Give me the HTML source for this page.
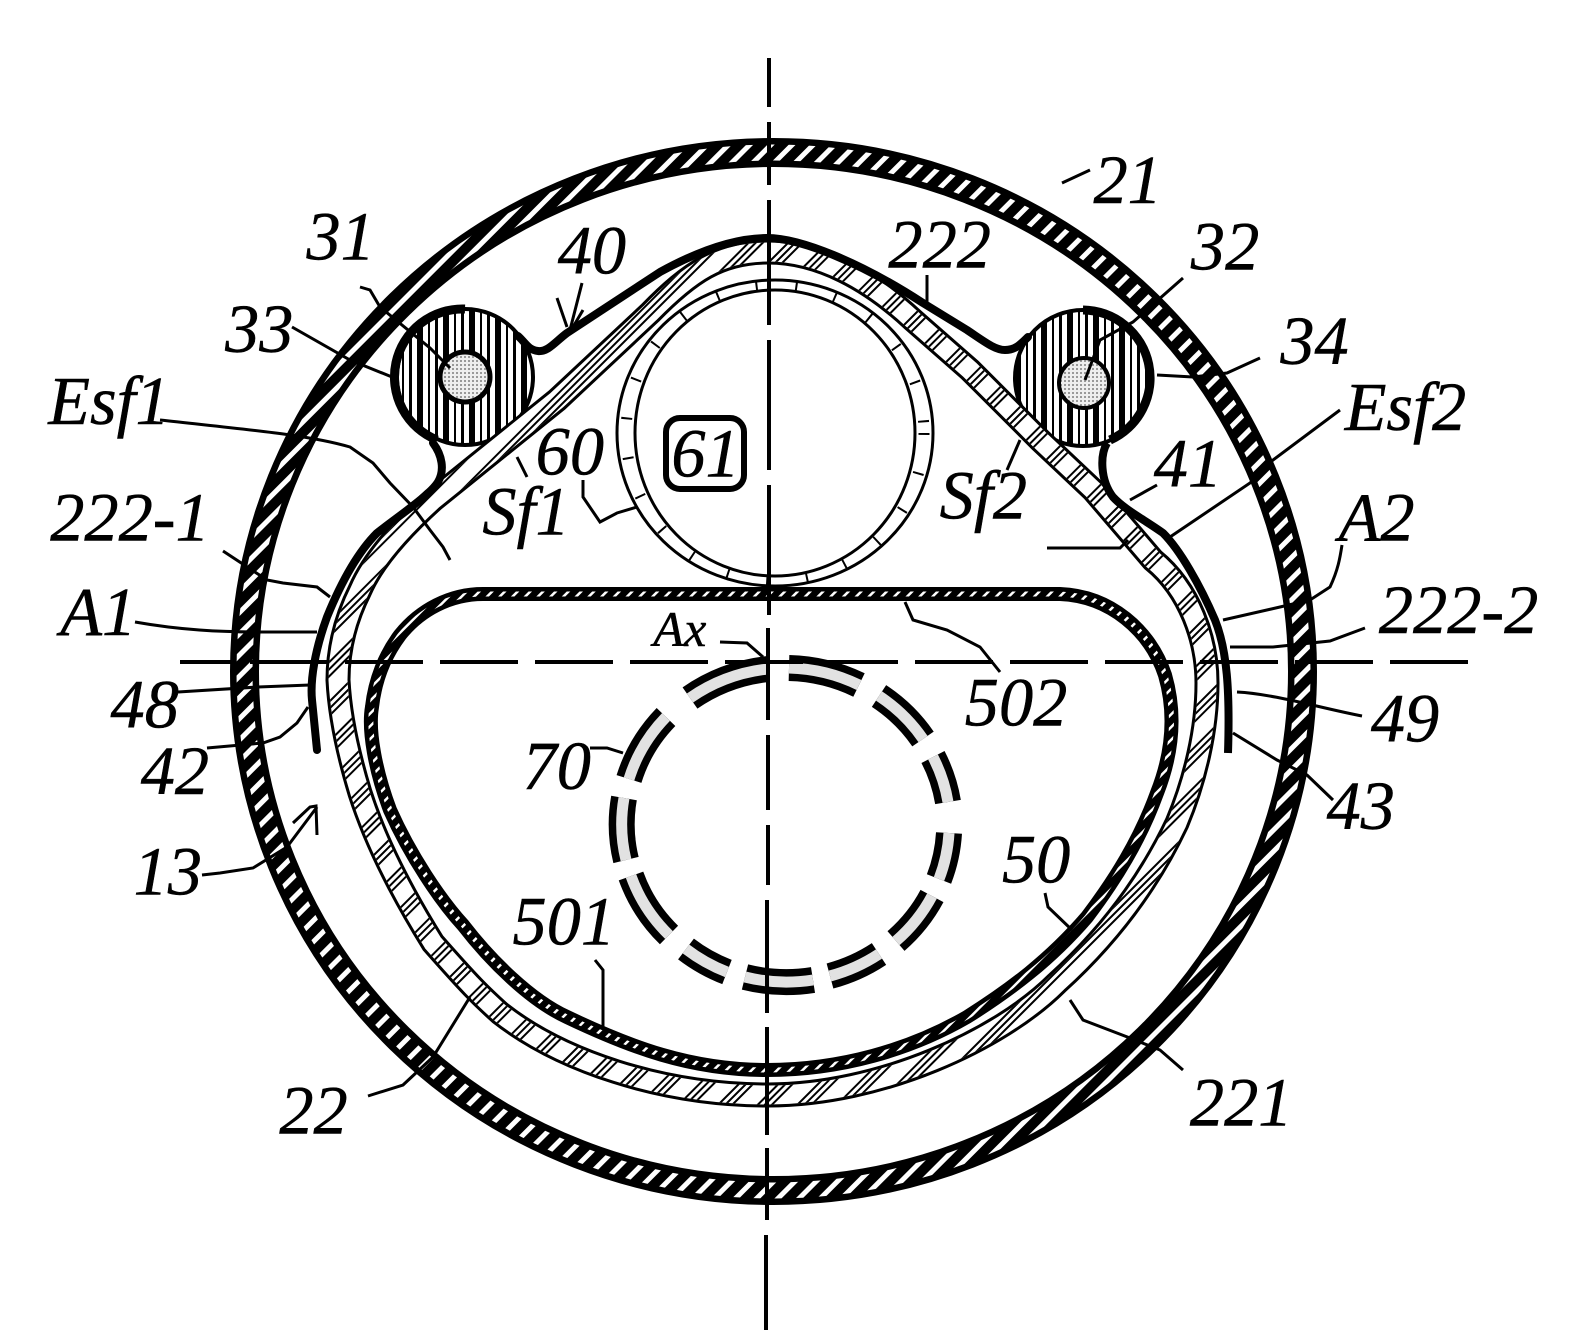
<!DOCTYPE html>
<html><head><meta charset="utf-8"><style>
html,body{margin:0;padding:0;background:#fff}
svg{display:block}
text{font-family:"Liberation Serif",serif;font-style:italic;font-size:68px;fill:#000;stroke:#000;stroke-width:.5}
.l{fill:none;stroke:#000;stroke-width:3}
</style></head><body>
<svg width="1576" height="1342" viewBox="0 0 1576 1342" xmlns="http://www.w3.org/2000/svg">
<defs>
<pattern id="vs" width="26" height="10" patternUnits="userSpaceOnUse"><rect width="26" height="10" fill="#fff"/><rect x="1" width="6" height="10" fill="#000"/><rect x="12" width="2" height="10" fill="#000"/><rect x="19" width="3" height="10" fill="#000"/></pattern>
<pattern id="st" width="4" height="4" patternUnits="userSpaceOnUse"><rect width="4" height="4" fill="#eee"/><rect width="2" height="2" fill="#999"/></pattern>
<pattern id="h" width="15" height="15" patternUnits="userSpaceOnUse" patternTransform="rotate(45)"><rect width="5" height="15" fill="#fff"/></pattern>
<pattern id="hb" width="28" height="28" patternUnits="userSpaceOnUse" patternTransform="rotate(45)"><rect width="2" height="28" fill="#000"/><rect x="5" width="2" height="28" fill="#000"/><rect x="10" width="2" height="28" fill="#000"/></pattern>
<pattern id="hc" width="9" height="9" patternUnits="userSpaceOnUse" patternTransform="rotate(45)"><rect width="2.5" height="9" fill="#fff"/></pattern>
</defs>
<rect width="1576" height="1342" fill="#fff"/>

<!-- outer ring -->
<ellipse cx="773.5" cy="671.5" rx="529" ry="519" fill="none" stroke="#000" stroke-width="29"/>
<ellipse cx="773.5" cy="671.5" rx="529" ry="519" fill="none" stroke="url(#h)" stroke-width="16"/>

<!-- balls -->
<circle cx="465" cy="377" r="68" fill="url(#vs)" stroke="#000" stroke-width="4"/>
<circle cx="1083" cy="378" r="68" fill="url(#vs)" stroke="#000" stroke-width="4"/>
<path d="M465,309 A68,68 0 0 0 437,440" fill="none" stroke="#000" stroke-width="9"/>
<path d="M1083,310 A68,68 0 0 1 1110,440" fill="none" stroke="#000" stroke-width="9"/>
<circle cx="465" cy="377" r="25" fill="url(#st)" stroke="#000" stroke-width="5"/>
<circle cx="1084" cy="383" r="25" fill="url(#st)" stroke="#000" stroke-width="4"/>

<!-- layer 222 band -->
<path d="M768,252 C720,252 690,272 650,313 L557,400 L433,500 C400,530 373,560 360,590 C345,620 338,650 338,680 C340,720 350,760 360,793 C375,840 400,890 433,943 C470,985 480,995 500,1013 C560,1060 660,1095 768,1095 C880,1095 1000,1040 1057,983 C1110,935 1150,880 1177,823 C1195,780 1207,730 1207,683 C1207,640 1190,590 1153,560 L1093,490 L1040,440 L970,370 L913,320 C870,280 820,252 768,252 Z" fill="none" stroke="#000" stroke-width="25"/>
<path d="M768,252 C720,252 690,272 650,313 L557,400 L433,500 C400,530 373,560 360,590 C345,620 338,650 338,680 C340,720 350,760 360,793 C375,840 400,890 433,943 C470,985 480,995 500,1013 C560,1060 660,1095 768,1095 C880,1095 1000,1040 1057,983 C1110,935 1150,880 1177,823 C1195,780 1207,730 1207,683 C1207,640 1190,590 1153,560 L1093,490 L1040,440 L970,370 L913,320 C870,280 820,252 768,252 Z" fill="none" stroke="#fff" stroke-width="19"/>
<path d="M768,252 C720,252 690,272 650,313 L557,400 L433,500 C400,530 373,560 360,590 C345,620 338,650 338,680 C340,720 350,760 360,793 C375,840 400,890 433,943 C470,985 480,995 500,1013 C560,1060 660,1095 768,1095 C880,1095 1000,1040 1057,983 C1110,935 1150,880 1177,823 C1195,780 1207,730 1207,683 C1207,640 1190,590 1153,560 L1093,490 L1040,440 L970,370 L913,320 C870,280 820,252 768,252 Z" fill="none" stroke="url(#hb)" stroke-width="19"/>

<!-- wall 40/41 thick line -->
<path d="M767,238 C735,238 700,250 660,272 L567,333 C555,342 548,352 538,351 C528,350 525,342 518,336" fill="none" stroke="#000" stroke-width="8" stroke-linecap="round"/>
<path d="M767,238 C800,238 860,262 923,303 L967,330 C985,342 995,350 1005,350 C1015,350 1020,345 1028,337" fill="none" stroke="#000" stroke-width="8" stroke-linecap="round"/>
<path d="M433,443 C442,455 445,470 438,482 C430,495 400,515 377,533 C355,555 338,590 327,617 C315,650 310,680 312,700 L317,750" fill="none" stroke="#000" stroke-width="8" stroke-linecap="round"/>
<path d="M1107,443 C1100,455 1100,480 1113,497 C1125,510 1145,520 1163,533 C1180,550 1200,585 1215,620 C1227,650 1230,690 1228,753" fill="none" stroke="#000" stroke-width="8" stroke-linecap="butt"/>

<!-- tube 60 -->
<ellipse cx="775" cy="433" rx="158" ry="153" fill="#fff" stroke="#000" stroke-width="3"/>
<ellipse cx="775" cy="433" rx="140" ry="143" fill="#fff" stroke="#000" stroke-width="3"/>
<ellipse cx="775" cy="433" rx="149" ry="148" fill="none" stroke="#000" stroke-width="11" stroke-dasharray="2 38"/>
<rect x="666" y="418" width="78" height="71" rx="14" fill="#fff" stroke="#000" stroke-width="6"/>

<!-- container 50 -->
<path d="M483,594 H1060 C1110,596 1150,630 1165,675 C1178,720 1170,760 1157,793 C1140,840 1115,880 1087,917 C1050,960 1010,990 967,1017 C910,1050 840,1070 767,1070 C690,1070 630,1047 567,1017 C530,1000 490,960 463,925 C440,900 410,855 390,810 C375,770 368,730 372,707 C375,680 385,655 400,635 C420,610 450,594 483,594 Z" fill="#fff" stroke="#000" stroke-width="14"/>
<path d="M483,594 H1060 C1110,596 1150,630 1165,675 C1178,720 1170,760 1157,793 C1140,840 1115,880 1087,917 C1050,960 1010,990 967,1017 C910,1050 840,1070 767,1070 C690,1070 630,1047 567,1017 C530,1000 490,960 463,925 C440,900 410,855 390,810 C375,770 368,730 372,707 C375,680 385,655 400,635 C420,610 450,594 483,594 Z" fill="none" stroke="url(#hc)" stroke-width="5"/>

<!-- tube 70 -->
<path d="M789,668 A164,157 0 0 1 859,685 M879,696 A164,157 0 0 1 923,739 M933,757 A164,157 0 0 1 948,802 M949,833 A164,157 0 0 1 939,879 M932,896 A164,157 0 0 1 896,941 M879,954 A164,157 0 0 1 830,976 M813,980 A164,157 0 0 1 745,977 M727,972 A164,157 0 0 1 686,949 M669,935 A164,157 0 0 1 631,876 M626,860 A164,157 0 0 1 624,798 M629,779 A164,157 0 0 1 666,717 M690,698 A164,157 0 0 1 768,669" fill="none" stroke="#000" stroke-width="26"/>
<path d="M789,668 A164,157 0 0 1 859,685 M879,696 A164,157 0 0 1 923,739 M933,757 A164,157 0 0 1 948,802 M949,833 A164,157 0 0 1 939,879 M932,896 A164,157 0 0 1 896,941 M879,954 A164,157 0 0 1 830,976 M813,980 A164,157 0 0 1 745,977 M727,972 A164,157 0 0 1 686,949 M669,935 A164,157 0 0 1 631,876 M626,860 A164,157 0 0 1 624,798 M629,779 A164,157 0 0 1 666,717 M690,698 A164,157 0 0 1 768,669" fill="none" stroke="#e2e2e2" stroke-width="11"/>

<!-- axes -->
<path d="M769,58 V107 M769,122 V185 M769,200 V325 M769,340 V470 M769,485 V615 M768,628 V720 M768,735 V810 M768,825 V885 M767,900 V1013 M767,1027 V1135 M767,1148 V1220 M766,1235 V1330" fill="none" stroke="#000" stroke-width="4"/>
<path d="M180,662 H1468" fill="none" stroke="#000" stroke-width="4" stroke-dasharray="78 17" stroke-dashoffset="25"/>

<!-- leaders -->
<path class="l" d="M1062,183 L1090,170"/>
<path class="l" d="M360,287 L370,290 L380,307 L430,348 L450,368"/>
<path class="l" d="M292,327 L350,360 L392,377"/>
<path class="l" d="M1183,278 L1133,322 L1100,340 L1085,380"/>
<path class="l" d="M1157,375 L1193,377 L1227,373 L1260,358"/>
<path class="l" d="M160,420 C250,430 310,435 350,447 L373,463 L390,483 L413,507 L430,530 L443,547 L450,560"/>
<path class="l" d="M1340,410 L1273,460 L1250,483 L1170,537"/>
<path class="l" d="M1047,548 L1120,548 L1128,540"/>
<path class="l" d="M582,283 L570,330 M557,298 L567,327 M583,310 L573,327"/>
<path class="l" d="M927,275 V305"/>
<path class="l" d="M517,457 L527,477"/>
<path class="l" d="M583,480 L583,497 L600,522 L617,513 L637,507"/>
<path class="l" d="M1007,470 L1020,440"/>
<path class="l" d="M1130,500 L1157,485"/>
<path class="l" d="M223,551 L267,580 L283,583 L317,587 L330,597"/>
<path class="l" d="M135,622 C180,630 220,632 260,632 L317,632"/>
<path class="l" d="M1223,620 L1280,607 L1310,600 L1330,587 C1338,570 1340,558 1342,545"/>
<path class="l" d="M1230,647 L1273,647 L1330,641 L1365,628"/>
<path class="l" d="M720,642 L747,643 L763,657"/>
<path class="l" d="M178,692 L258,687 L310,685"/>
<path class="l" d="M207,748 L263,743 L280,737 L297,723 L308,707"/>
<path class="l" d="M1237,692 C1275,694 1320,708 1362,716"/>
<path class="l" d="M1233,733 L1277,760 L1307,775 L1333,800"/>
<path class="l" d="M202,875 L220,873 L253,868 L287,847 L317,807 M293,823 L310,807 L316,806 L317,835"/>
<path class="l" d="M590,748 L607,748 L623,753"/>
<path class="l" d="M905,602 L913,620 L947,630 L980,647 L1000,672"/>
<path class="l" d="M595,960 L603,970 L603,1027"/>
<path class="l" d="M1045,893 L1048,907 L1072,930"/>
<path class="l" d="M1070,1000 L1083,1020 L1130,1038 L1160,1050 L1183,1070"/>
<path class="l" d="M368,1096 L403,1085 L433,1057 L470,997"/>

<!-- labels -->
<g transform="scale(1.005)">
<text x="305" y="258">31</text>
<text x="555" y="272">40</text>
<text x="884" y="266">222</text>
<text x="1088" y="202">21</text>
<text x="1185" y="268">32</text>
<text x="224" y="350">33</text>
<text x="1274" y="362">34</text>
<text x="48" y="422">Esf1</text>
<text x="1338" y="428">Esf2</text>
<text x="533" y="472">60</text>
<text x="668" y="474">61</text>
<text x="480" y="532">Sf1</text>
<text x="935" y="516">Sf2</text>
<text x="1148" y="484">41</text>
<text x="50" y="538">222-1</text>
<text x="1332" y="538">A2</text>
<text x="60" y="632">A1</text>
<text x="1372" y="630">222-2</text>
<text x="650" y="643" style="font-size:50px">Ax</text>
<text x="960" y="722">502</text>
<text x="110" y="724">48</text>
<text x="1364" y="738">49</text>
<text x="140" y="790">42</text>
<text x="520" y="785">70</text>
<text x="1320" y="825">43</text>
<text x="133" y="890">13</text>
<text x="997" y="878">50</text>
<text x="510" y="940">501</text>
<text x="278" y="1128">22</text>
<text x="1184" y="1120">221</text>
</g>
</svg>
</body></html>
